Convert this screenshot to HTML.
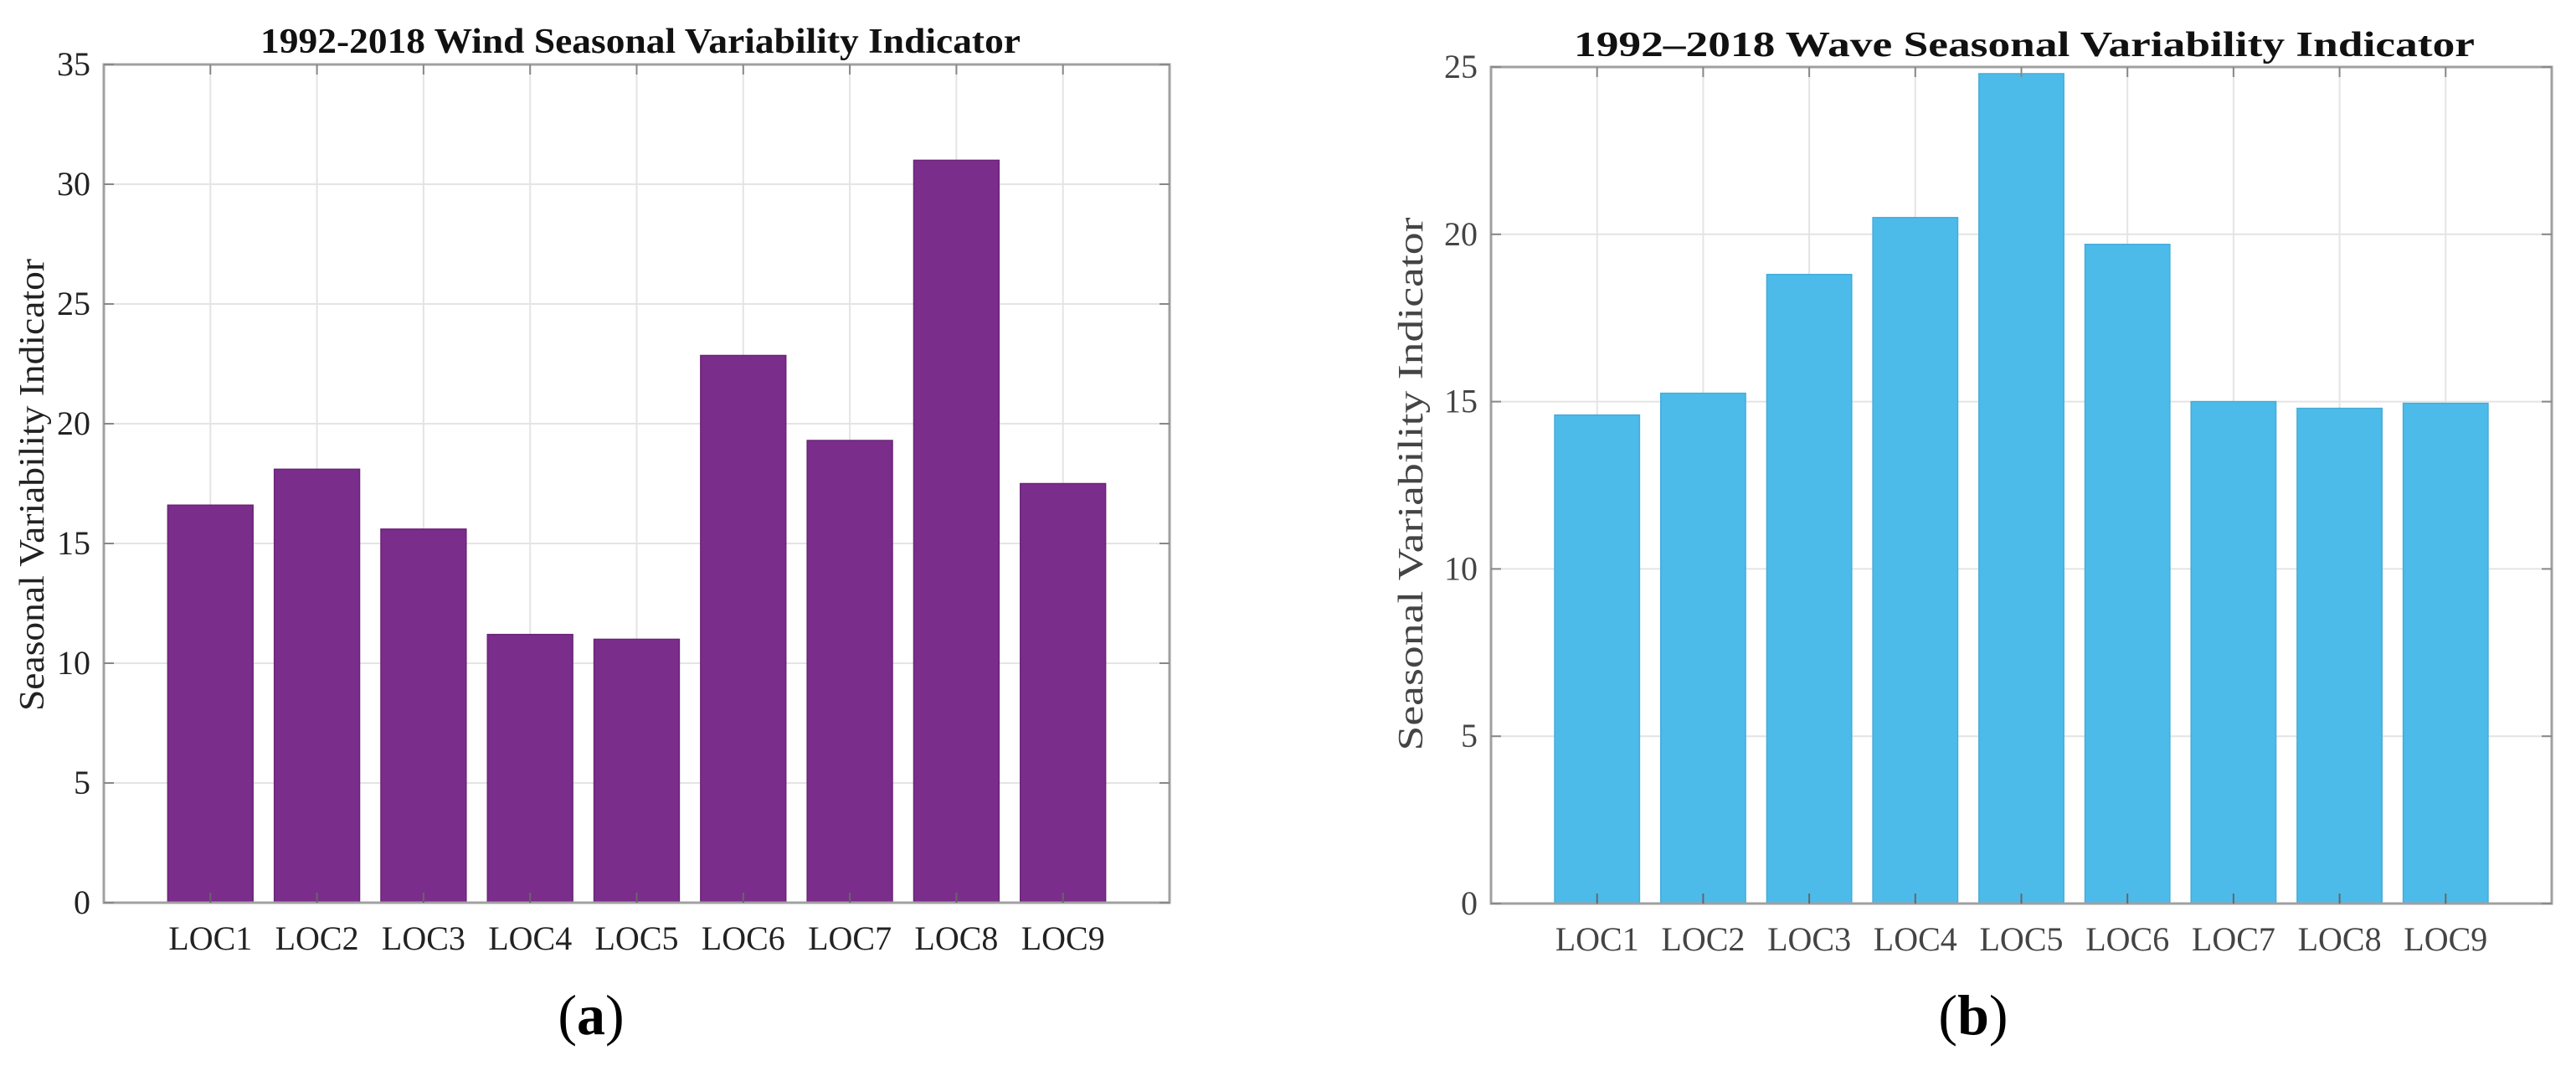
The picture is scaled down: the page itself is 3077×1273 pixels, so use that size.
<!DOCTYPE html>
<html><head><meta charset="utf-8"><style>
html,body{margin:0;padding:0;background:#fff;}
svg{display:block;}
</style></head><body>
<svg id="fig" width="3077" height="1273" viewBox="0 0 3077 1273" xmlns="http://www.w3.org/2000/svg">
<rect width="3077" height="1273" fill="#fff"/>
</svg>
<script>
const categories = ["LOC1","LOC2","LOC3","LOC4","LOC5","LOC6","LOC7","LOC8","LOC9"];
const windValues = [16.6, 18.1, 15.6, 11.2, 11.0, 22.85, 19.3, 31.0, 17.5];
const waveValues = [14.6, 15.25, 18.8, 20.5, 24.8, 19.7, 15.0, 14.8, 14.95];
const windTicks = [0,5,10,15,20,25,30,35];
const waveTicks = [0,5,10,15,20,25];

const NS = "http://www.w3.org/2000/svg";
const svg = document.getElementById('fig');
function mk(tag, attrs, parent){
  const e = document.createElementNS(NS, tag);
  for (const k in attrs) e.setAttribute(k, attrs[k]);
  (parent||svg).appendChild(e);
  return e;
}

function chart(cfg){
  const g = mk('g', {});
  
  
  const L=cfg.left, R=cfg.right, T=cfg.top, B=cfg.bottom;
  const yMax = cfg.ticks[cfg.ticks.length-1];
  const ys = v => B - (v / yMax) * (B - T);
  const xs = i => L + (i + 1) * (R - L) / (categories.length + 1);
  const bw = 0.8 * (R - L) / (categories.length + 1);
  // grid
  cfg.ticks.forEach(t => {
    const ln = mk('line', {x1:L, x2:R, y1:ys(t), y2:ys(t), stroke:'#e4e4e4', 'stroke-width':2}, g);
    
    
  });
  categories.forEach((c,i) => {
    const ln = mk('line', {x1:xs(i), x2:xs(i), y1:T, y2:B, stroke:'#e4e4e4', 'stroke-width':2}, g);
    
    
  });
  // bars
  cfg.values.forEach((v,i) => {
    const r = mk('rect', {x:xs(i)-bw/2, y:ys(v), width:bw, height:B-ys(v), fill:cfg.color, stroke:cfg.edge, 'stroke-width':1.5}, g);
    
    
  });
  // axes box
  const box = mk('rect', {x:L, y:T, width:R-L, height:B-T, fill:'none', stroke:'#a0a0a0', 'stroke-width':3}, g);
  
  
  // ticks
  cfg.ticks.forEach(t => {
    mk('line', {x1:L, x2:L+12, y1:ys(t), y2:ys(t), stroke:'#888', 'stroke-width':2}, g);
    mk('line', {x1:R-12, x2:R, y1:ys(t), y2:ys(t), stroke:'#888', 'stroke-width':2}, g);
    const tx = mk('text', {x:L-16, y:ys(t)+13, 'text-anchor':'end', 'font-family':'"Liberation Serif", serif', 'font-size':40, fill:cfg.textColor}, g);
    tx.textContent = t;
    
    
  });
  categories.forEach((c,i) => {
    mk('line', {x1:xs(i), x2:xs(i), y1:B-12, y2:B, stroke:'#666', 'stroke-width':2}, g);
    mk('line', {x1:xs(i), x2:xs(i), y1:T, y2:T+12, stroke:'#888', 'stroke-width':2}, g);
    const tx = mk('text', {x:xs(i), y:B+56, 'text-anchor':'middle', 'font-family':'"Liberation Serif", serif', 'font-size':40, fill:cfg.textColor}, g);
    tx.textContent = c;
    
    
  });
  // title
  const ti = mk('text', {x:cfg.titleX, y:cfg.titleY, 'text-anchor':'middle', 'font-family':'"Liberation Serif", serif', 'font-weight':'bold', 'font-size':42, fill:'#111', textLength:cfg.titleLen, lengthAdjust:'spacingAndGlyphs'}, g);
  ti.textContent = cfg.title;
  
  
  // y label
  const yl = mk('text', {x:0, y:0, transform:`translate(${cfg.ylabX},${cfg.ylabY}) rotate(-90)`, 'text-anchor':'middle', 'font-family':'"Liberation Serif", serif', 'font-size':42, fill:cfg.textColor, textLength:cfg.ylabLen, lengthAdjust:'spacingAndGlyphs'}, g);
  yl.textContent = 'Seasonal Variability Indicator';
  
  
  // panel label
  const pl = mk('text', {x:cfg.panelX, y:1235, 'text-anchor':'middle', 'font-family':'"Liberation Serif", serif', 'font-size':68, fill:'#000'}, g);
  pl.innerHTML = '(<tspan font-weight="bold">' + cfg.panel + '</tspan>)';
  
  
}

chart({name:'wind-chart', left:124, right:1397, top:77, bottom:1078, values:windValues, ticks:windTicks,
  color:'#7b2d8b', edge:'#6a2478', textColor:'#222', title:'1992-2018 Wind Seasonal Variability Indicator',
  titleX:765, titleY:63, titleLen:908, ylabX:52, ylabY:579, ylabLen:540, panel:'a', panelX:706});
chart({name:'wave-chart', left:1781, right:3048, top:80, bottom:1079, values:waveValues, ticks:waveTicks,
  color:'#4dbbea', edge:'#45acd8', textColor:'#444', title:'1992\u20132018 Wave Seasonal Variability Indicator',
  titleX:2418, titleY:67, titleLen:1076, ylabX:1699, ylabY:578, ylabLen:637, panel:'b', panelX:2357});
</script>
</body></html>
